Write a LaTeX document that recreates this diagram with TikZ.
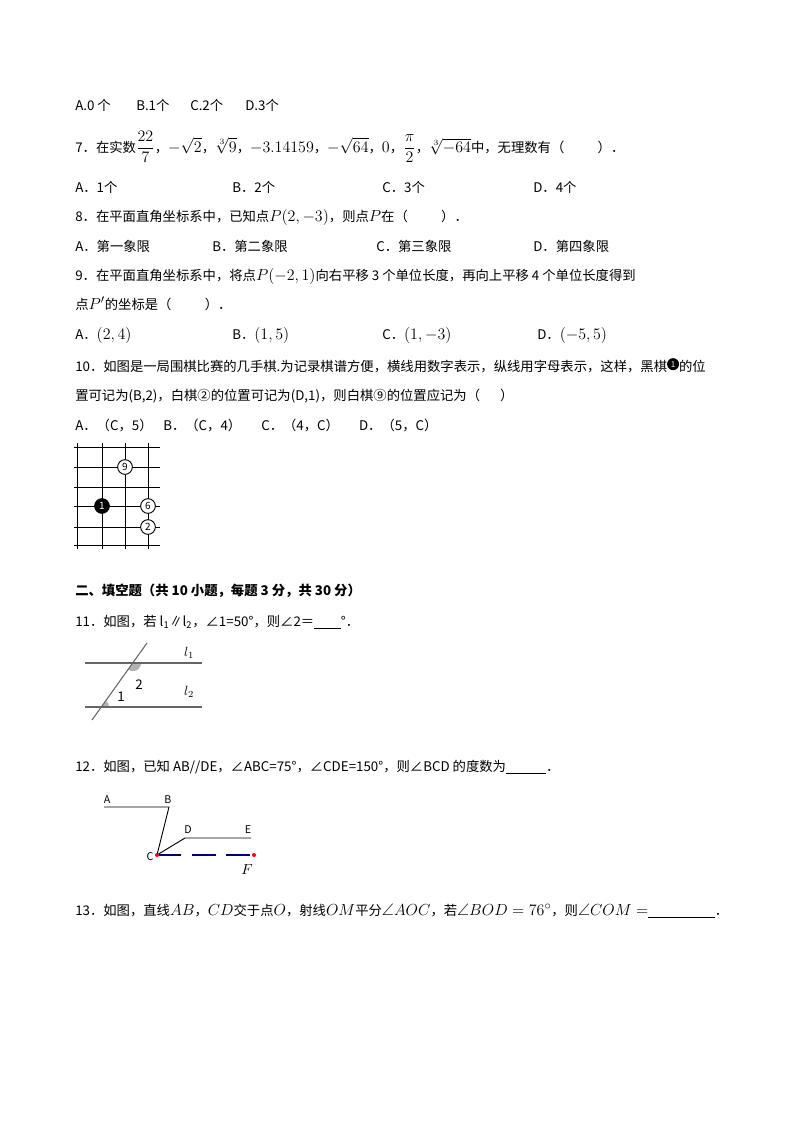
\documentclass[tikz,border=0pt]{standalone}
\usepackage{amsmath,amssymb}
\usepackage{fontspec}
\setmainfont{Noto Sans CJK SC}
\newcommand\mm[1]{{\fontsize{12.5}{14}\selectfont$#1$}}
\begin{document}
\begin{tikzpicture}[x=0.75pt,y=-0.75pt,
  t/.style={anchor=base west,inner sep=0pt,font=\fontsize{10}{12}\selectfont},
  stone/.style={circle,draw,line width=0.7pt,fill=white,minimum size=11pt,inner sep=0pt,font=\fontsize{7.5}{9}\selectfont},
  gl/.style={line width=0.6pt},
  fl/.style={gray!80!black,line width=0.8pt}]
\useasboundingbox (0,0) rectangle (800,1132);
% line 6 options
\node[t] (o6a) at (75,110) {A.0 个};
\node[t] (o6b) at (136,110) {B.1个};
\node[t] (o6c) at (190,110) {C.2个};
\node[t] (o6d) at (245,110) {D.3个};
% Q7
\node[t] (q7) at (75,152) {7．在实数\mm{\dfrac{22}{7}}，\mm{-\sqrt{2}}，\mm{\sqrt[3]{9}}，\mm{-3.14159}，\mm{-\sqrt{64}}，\mm{0}，\mm{\dfrac{\pi}{2}}，\mm{\sqrt[3]{-64}}中，无理数有（\hspace{2.5em}）．};
\node[t] (o7a) at (75,192) {A．1个};
\node[t] (o7b) at (232,192) {B．2个};
\node[t] (o7c) at (382,192) {C．3个};
\node[t] (o7d) at (533,192) {D．4个};
% Q8
\node[t] (q8) at (75,221) {8．在平面直角坐标系中，已知点\mm{P(2,-3)}，则点\mm{P}在（\hspace{2.5em}）．};
\node[t] (o8a) at (75,251) {A．第一象限};
\node[t] (o8b) at (212,251) {B．第二象限};
\node[t] (o8c) at (376,251) {C．第三象限};
\node[t] (o8d) at (533,251) {D．第四象限};
% Q9
\node[t] (q9) at (75,280) {9．在平面直角坐标系中，将点\mm{P(-2,1)}向右平移 3 个单位长度，再向上平移 4 个单位长度得到};
\node[t] (q9b) at (75,309) {点\mm{P'}的坐标是（\hspace{2.5em}）．};
\node[t] (o9a) at (75,339) {A．\mm{(2,4)}};
\node[t] (o9b) at (232,339) {B．\mm{(1,5)}};
\node[t] (o9c) at (382,339) {C．\mm{(1,-3)}};
\node[t] (o9d) at (537,339) {D．\mm{(-5,5)}};
% Q10
\node[t] (q10) at (75,371) {10．如图是一局围棋比赛的几手棋.为记录棋谱方便，横线用数字表示，纵线用字母表示，这样，黑棋\tikz[baseline=-3pt]\node[circle,fill=black,text=white,inner sep=0pt,minimum size=9pt,font=\fontsize{6}{6}\selectfont]{1};的位};
\node[t] (q10b) at (75,400) {置可记为(B,2)，白棋②的位置可记为(D,1)，则白棋⑨的位置应记为（\hspace{1.5em}）};
\node[t] (o10) at (75,430) {A．（C，5）\hspace{0.8em}B．（C，4）\hspace{1.5em}C．（4，C）\hspace{1.5em}D．（5，C）};
% board
\foreach \y in {447,467,487,506,527,545} \draw[gl] (74,\y) -- (160,\y);
\foreach \x in {77,102,125,148} \draw[gl] (\x,443) -- (\x,549);
\node[stone] (s9) at (125,467) {9};
\node[stone,fill=black,text=white] (s1) at (102,506) {1};
\node[stone] (s6) at (148,506) {6};
\node[stone] (s2) at (148,527) {2};
% section
\node[t,font=\fontsize{10}{12}\selectfont\bfseries] (sec) at (75,595) {二、填空题（共 10 小题，每题 3 分，共 30 分）};
% Q11
\node[t] (q11) at (75,626) {11．如图，若 l\textsubscript{1}∥l\textsubscript{2}，∠1=50°，则∠2＝\underline{\hspace{2em}}°．};
\coordinate (a1) at (85,663); \coordinate (a2) at (202,663);
\coordinate (b1) at (85,707); \coordinate (b2) at (202,707);
\coordinate (p) at (92,720); \coordinate (q) at (147,643);
\coordinate (X1) at (133.1,663); \coordinate (X2) at (101.6,707);
\fill[gray!60] (X1) -- (128.5,669.4) -- (130.5,670.8) -- (134,671.2) -- (138,669.5) -- (140.5,666) -- (141,663) -- cycle;
\fill[gray!60] (X2) -- (109,707) -- (108.3,703.5) -- (106.8,701.7) -- (105.7,701.3) -- cycle;
\draw[fl] (a1) -- (a2);
\draw[fl] (b1) -- (b2);
\draw[fl] (p) -- (q);
\node[font=\fontsize{10}{12}\selectfont] (l1) at (189,653) {$l_1$};
\node[font=\fontsize{10}{12}\selectfont] (l2) at (189,692) {$l_2$};
\node[font=\fontsize{10}{12}\selectfont] (n2) at (139,685) {2};
\node[font=\fontsize{10}{12}\selectfont] (n1) at (121,697) {1};
% Q12
\node[t] (q12) at (75,771) {12．如图，已知 AB//DE，∠ABC=75°，∠CDE=150°，则∠BCD 的度数为\underline{\hspace{3em}}．};
\coordinate (A) at (104,807); \coordinate (B) at (169,807);
\coordinate (C) at (157,855); \coordinate (D) at (185,838);
\coordinate (E) at (251,838); \coordinate (F) at (254,855);
\draw[line width=0.7pt] (A) -- (B) -- (C) -- (D) -- (E);
\draw[blue!40!black,line width=2pt,dash pattern=on 18pt off 8pt] (C) -- (F);
\fill[red] (C) circle (1.5pt); \fill[red] (F) circle (1.5pt);
\node[font=\fontsize{8}{9}\selectfont] (LA) at (107,800) {A};
\node[font=\fontsize{8}{9}\selectfont] (LB) at (168,800) {B};
\node[font=\fontsize{8}{9}\selectfont] (LC) at (150,857) {C};
\node[font=\fontsize{8}{9}\selectfont] (LD) at (188,830) {D};
\node[font=\fontsize{8}{9}\selectfont] (LE) at (248,830) {E};
\node[font=\fontsize{11}{12}\selectfont] (LF) at (247,869) {$F$};
% Q13
\node[t] (q13) at (75,915) {13．如图，直线\mm{AB}，\mm{CD}交于点\mm{O}，射线\mm{OM}平分\mm{\angle AOC}，若\mm{\angle BOD=76^\circ}，则\mm{\angle COM=}\underline{\hspace{5em}}．};
\end{tikzpicture}
\end{document}
